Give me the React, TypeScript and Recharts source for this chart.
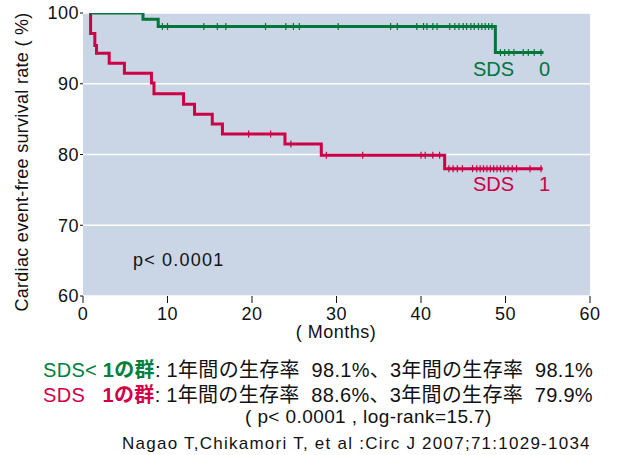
import React from "react";
import {
  ComposedChart,
  Line,
  Scatter,
  XAxis,
  YAxis,
  CartesianGrid,
} from "recharts";

// step curves (months, survival %)
const sds0Times = [0.8, 7.1, 8.9, 48.8, 54.5];
const sds0Surv = [100, 99.1, 98.1, 94.4, 94.4];
const sds1Times = [0.8, 0.9, 1.4, 1.6, 3.1, 4.9, 8.1, 8.4, 11.9, 13.2, 15.3, 16.5, 23.9, 28.2, 42.8, 54.4];
const sds1Surv = [100, 97.1, 95.4, 94.3, 92.9, 91.5, 90.1, 88.6, 87.1, 85.7, 84.3, 82.9, 81.5, 79.9, 78.0, 78.0];

// censored cases (tick marks)
const sds0Censor = [
  9.4, 10.0, 14.3, 15.9, 16.9, 21.6, 24.0, 24.9, 25.6, 30.2, 36.4, 37.2, 39.5, 40.3,
  40.7, 41.4, 41.9, 43.4, 44.0, 44.5, 45.0, 45.4, 45.9, 46.3, 46.8, 47.2, 47.6, 48.0,
  48.4, 49.4, 49.9, 50.4, 51.0, 52.1, 52.7, 53.4, 54.2,
];
const sds1Censor = [
  19.6, 22.2, 24.6, 28.8, 33.1, 40.0, 40.5, 41.4, 42.2, 43.3, 43.8, 44.3, 44.9, 46.1,
  46.6, 47.0, 47.4, 47.8, 48.2, 48.6, 49.0, 49.4, 49.8, 50.3, 50.8, 51.3, 52.9, 54.2,
];

const xTicks = [0, 10, 20, 30, 40, 50, 60];
const yTicks = [60, 70, 80, 90, 100];

const GREEN = "#00763a";
const RED = "#cc0044";
const GREEN_TEXT = "#00803e";
const RED_TEXT = "#d2004a";
const FONT = "'Liberation Sans', Arial, 'Noto Sans CJK JP', sans-serif";

const toSteps = (times: number[], surv: number[]) =>
  times.map((t, i) => ({ t, s: surv[i] }));

const survAt = (times: number[], surv: number[], t: number) => {
  let s = surv[0];
  times.forEach((tt, i) => {
    if (tt <= t) s = surv[i];
  });
  return s;
};

const toCensor = (cens: number[], times: number[], surv: number[]) =>
  cens.map((t) => ({ t, s: survAt(times, surv, t) }));

const sds0Data = toSteps(sds0Times, sds0Surv);
const sds1Data = toSteps(sds1Times, sds1Surv);
const sds0Marks = toCensor(sds0Censor, sds0Times, sds0Surv);
const sds1Marks = toCensor(sds1Censor, sds1Times, sds1Surv);

const censorShape = (color: string) => (props: any) => (
  <line
    x1={props.cx}
    x2={props.cx}
    y1={props.cy - 3.5}
    y2={props.cy + 3.5}
    stroke={color}
    strokeWidth={1.2}
  />
);

const abs = (left: number, top: number, extra: React.CSSProperties = {}): React.CSSProperties => ({
  position: "absolute",
  left,
  top,
  whiteSpace: "pre",
  fontFamily: FONT,
  ...extra,
});

const tickStyle = { fontSize: 18, fill: "#111", letterSpacing: 0.5 };

const App = () => {
  return (
    <div style={{ position: "absolute", left: 0, top: 0, width: 620, height: 455, background: "#fff" }}>
      <ComposedChart
        width={620}
        height={345}
        margin={{ top: 13, right: 30, bottom: 4, left: 0 }}
        style={{ fontFamily: FONT }}
      >
        <CartesianGrid fill="#cad5e6" stroke="#ffffff" strokeWidth={1.5} vertical={false} />
        <XAxis
          type="number"
          dataKey="t"
          domain={[0, 60]}
          ticks={xTicks}
          axisLine={false}
          tickSize={7}
          tickMargin={4}
          tickLine={{ stroke: "#111" }}
          tick={tickStyle}
          height={45}
          allowDataOverflow
        />
        <YAxis
          type="number"
          domain={[60, 100]}
          ticks={yTicks}
          axisLine={false}
          tickSize={3}
          tickMargin={1}
          tickLine={{ stroke: "#111" }}
          tick={tickStyle}
          width={83}
          allowDataOverflow
        />
        <Line
          data={sds1Data}
          dataKey="s"
          type="stepAfter"
          stroke={RED}
          strokeWidth={3}
          dot={false}
          isAnimationActive={false}
        />
        <Line
          data={sds0Data}
          dataKey="s"
          type="stepAfter"
          stroke={GREEN}
          strokeWidth={3}
          dot={false}
          isAnimationActive={false}
        />
        <Scatter data={sds1Marks} dataKey="s" shape={censorShape(RED)} isAnimationActive={false} />
        <Scatter data={sds0Marks} dataKey="s" shape={censorShape(GREEN)} isAnimationActive={false} />
      </ComposedChart>

      <div
        style={abs(22, 162, {
          fontSize: 18,
          letterSpacing: 0.3,
          color: "#111",
          transform: "translate(-50%, -50%) rotate(-90deg)",
        })}
      >
        Cardiac event-free survival rate ( %)
      </div>
      <div style={abs(336, 322, { fontSize: 18, letterSpacing: 0.5, color: "#111", transform: "translateX(-50%)" })}>
        ( Months)
      </div>
      <div style={abs(133, 250, { fontSize: 18, letterSpacing: 1.2, color: "#111" })}>p&lt; 0.0001</div>
      <div style={abs(473, 58, { fontSize: 20, color: GREEN })}>SDS</div>
      <div style={abs(539, 58, { fontSize: 20, color: GREEN })}>0</div>
      <div style={abs(473, 173, { fontSize: 20, color: RED })}>SDS</div>
      <div style={abs(539, 173, { fontSize: 20, color: RED })}>1</div>

      <div style={abs(43, 354, { fontSize: 20, letterSpacing: 0.3, color: "#111" })}>
        <span style={{ color: GREEN_TEXT }}>SDS&lt; </span>
        <span style={{ color: GREEN_TEXT, fontWeight: "bold" }}>1の群</span>
        : 1年間の生存率  98.1%、3年間の生存率  98.1%
      </div>
      <div style={abs(43, 379, { fontSize: 20, letterSpacing: 0.3, color: "#111" })}>
        <span style={{ color: RED_TEXT }}>SDS   </span>
        <span style={{ color: RED_TEXT, fontWeight: "bold" }}>1の群</span>
        : 1年間の生存率  88.6%、3年間の生存率  79.9%
      </div>
      <div style={abs(245, 406, { fontSize: 19, letterSpacing: 0.4, color: "#111" })}>( p&lt; 0.0001 , log-rank=15.7)</div>
      <div style={abs(122, 434, { fontSize: 17, letterSpacing: 1.25, color: "#111" })}>
        Nagao T,Chikamori T, et al :Circ J 2007;71:1029-1034
      </div>
    </div>
  );
};

export default App;
